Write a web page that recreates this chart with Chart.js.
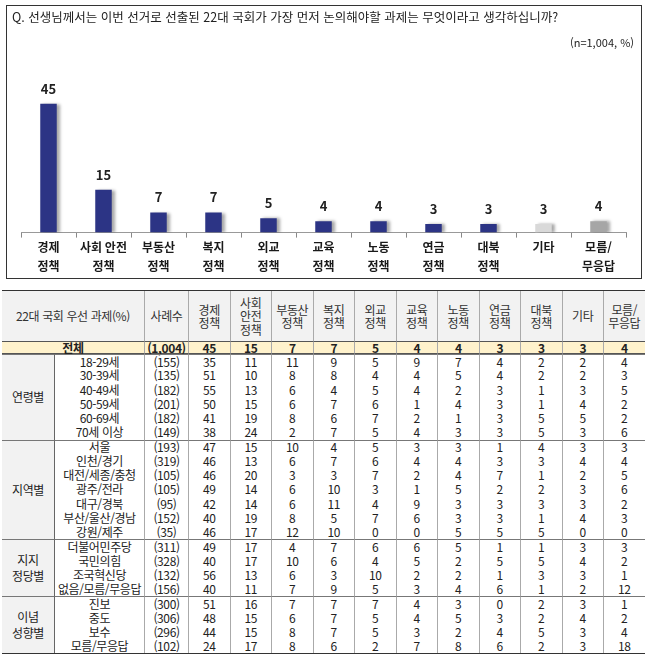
<!DOCTYPE html>
<html lang="ko">
<head>
<meta charset="utf-8">
<script src="https://cdn.jsdelivr.net/npm/chart.js@4.4.1/dist/chart.umd.min.js"></script>
<style>
  body { margin: 0; width: 652px; height: 660px; position: relative; background: #fff; color: #222;
         font-family: "Noto Sans CJK KR", sans-serif; overflow: hidden; }
  #chartBox { position: absolute; left: 6px; top: 5px; width: 634px; height: 272px; border: 1px solid #333; }
  #chartWrap { position: absolute; left: 0; top: 0; width: 634px; height: 272px; }
  #question { position: absolute; left: 5px; top: 3px; font-size: 12.5px; line-height: 16px; white-space: nowrap; }
  #sample { position: absolute; right: 7px; top: 29px; font-size: 11px; line-height: 14px; }
  #table { position: absolute; left: 2px; top: 290px; width: 643px; display: grid;
           grid-template-columns: 52px 90px 44px repeat(11, 41.5px);
           grid-template-rows: 50px 13px repeat(21, 14.25px);
           font-size: 12px; letter-spacing: -0.4px;
           border-top: 1.5px solid #333; border-bottom: 1.5px solid #333; }
  #table div { box-sizing: border-box; display: flex; align-items: center; justify-content: center;
               text-align: center; white-space: nowrap; line-height: 14px; border-left: 1px solid #aaa; }
  #table div.c0 { border-left: none; }
  #table div.c1 { border-left: 1px solid #666; }
  #table div.head { background: #f2f2f2; line-height: 13.5px; color: #333; }
  #table div.total { background: #fff2cc; font-weight: bold; line-height: 12px;
                     border-top: 1px solid #555; border-bottom: 1px solid #555; }
  #table div.first { border-top: 1px solid #777; }
  #table div.group { background: #f2f2f2; line-height: 16px; }
</style>
</head>
<body>
<div id="chartBox">
  <div id="chartWrap"><canvas id="chart"></canvas></div>
  <div id="question">Q. 선생님께서는 이번 선거로 선출된 22대 국회가 가장 먼저 논의해야할 과제는 무엇이라고 생각하십니까?</div>
  <div id="sample">(n=1,004, %)</div>
</div>
<div id="table"></div>
<script>
// 상단 그래프
const categories = [['경제', '정책'], ['사회 안전', '정책'], ['부동산', '정책'], ['복지', '정책'], ['외교', '정책'],
  ['교육', '정책'], ['노동', '정책'], ['연금', '정책'], ['대북', '정책'], ['기타'], ['모름/', '무응답']];
const overallValues = [45, 15, 7, 7, 5, 4, 4, 3, 3, 3, 4];
const overallBase = '1,004';

// 표 머리
const tableTitle = '22대 국회 우선 과제(%)';
const baseTitle = '사례수';
const columnHeads = [['경제', '정책'], ['사회', '안전', '정책'], ['부동산', '정책'], ['복지', '정책'], ['외교', '정책'],
  ['교육', '정책'], ['노동', '정책'], ['연금', '정책'], ['대북', '정책'], ['기타'], ['모름/', '무응답']];

// 연령별
const ageLabels = ['18-29세', '30-39세', '40-49세', '50-59세', '60-69세', '70세 이상'];
const ageBases = [155, 135, 182, 201, 182, 149];
const ageValues = [
  [35, 11, 11, 9, 5, 9, 7, 4, 2, 2, 4],
  [51, 10, 8, 8, 4, 4, 5, 4, 2, 2, 3],
  [55, 13, 6, 4, 5, 4, 2, 3, 1, 3, 5],
  [50, 15, 6, 7, 6, 1, 4, 3, 1, 4, 2],
  [41, 19, 8, 6, 7, 2, 1, 3, 5, 5, 2],
  [38, 24, 2, 7, 5, 4, 3, 3, 5, 3, 6]
];

// 지역별
const regionLabels = ['서울', '인천/경기', '대전/세종/충청', '광주/전라', '대구/경북', '부산/울산/경남', '강원/제주'];
const regionBases = [193, 319, 105, 105, 95, 152, 35];
const regionValues = [
  [47, 15, 10, 4, 5, 3, 3, 1, 4, 3, 3],
  [46, 13, 6, 7, 6, 4, 4, 3, 3, 4, 4],
  [46, 20, 3, 3, 7, 2, 4, 7, 1, 2, 5],
  [49, 14, 6, 10, 3, 1, 5, 2, 2, 3, 6],
  [42, 14, 6, 11, 4, 9, 3, 3, 3, 3, 2],
  [40, 19, 8, 5, 7, 6, 3, 3, 1, 4, 3],
  [46, 17, 12, 10, 0, 0, 5, 5, 5, 0, 0]
];

// 지지 정당별
const partyLabels = ['더불어민주당', '국민의힘', '조국혁신당', '없음/모름/무응답'];
const partyBases = [311, 328, 132, 156];
const partyValues = [
  [49, 17, 4, 7, 6, 6, 5, 1, 1, 3, 3],
  [40, 17, 10, 6, 4, 5, 2, 5, 5, 4, 2],
  [56, 13, 6, 3, 10, 2, 2, 1, 3, 3, 1],
  [40, 11, 7, 9, 5, 3, 4, 6, 1, 2, 12]
];

// 이념 성향별
const ideologyLabels = ['진보', '중도', '보수', '모름/무응답'];
const ideologyBases = [300, 306, 296, 102];
const ideologyValues = [
  [51, 16, 7, 7, 7, 4, 3, 0, 2, 3, 1],
  [48, 15, 6, 7, 5, 4, 5, 3, 2, 4, 2],
  [44, 15, 8, 7, 5, 3, 2, 4, 5, 3, 4],
  [24, 17, 8, 6, 2, 7, 8, 6, 2, 3, 18]
];

const groups = [
  { name: ['연령별'], labels: ageLabels, bases: ageBases, values: ageValues },
  { name: ['지역별'], labels: regionLabels, bases: regionBases, values: regionValues },
  { name: ['지지', '정당별'], labels: partyLabels, bases: partyBases, values: partyValues },
  { name: ['이념', '성향별'], labels: ideologyLabels, bases: ideologyBases, values: ideologyValues }
];

const navy = '#2c3485';
const barColors = overallValues.map((v, i) => i === 9 ? '#d9d9d9' : i === 10 ? '#a6a6a6' : navy);

const barDecor = {
  id: 'barDecor',
  beforeDatasetsDraw(chart) {
    const ctx = chart.ctx;
    ctx.save();
    ctx.shadowColor = 'rgba(0,0,0,0.35)';
    ctx.shadowOffsetX = 3;
    ctx.shadowOffsetY = 0;
    ctx.shadowBlur = 3;
  },
  afterDatasetsDraw(chart) {
    const ctx = chart.ctx;
    ctx.restore();
    ctx.save();
    ctx.font = 'bold 13px "Noto Sans CJK KR"';
    ctx.fillStyle = '#222';
    ctx.textAlign = 'center';
    ctx.textBaseline = 'middle';
    const data = chart.data.datasets[0].data;
    chart.getDatasetMeta(0).data.forEach((bar, i) => {
      ctx.fillText(data[i], bar.x, bar.y - 15);
    });
    ctx.restore();
  }
};

new Chart(document.getElementById('chart'), {
  type: 'bar',
  data: {
    labels: categories,
    datasets: [{
      data: overallValues,
      backgroundColor: barColors,
      barPercentage: 0.3,
      categoryPercentage: 1
    }]
  },
  options: {
    responsive: true,
    maintainAspectRatio: false,
    animation: false,
    layout: { padding: { left: 14, right: 15, top: 59, bottom: 2 } },
    plugins: { legend: { display: false }, tooltip: { enabled: false } },
    scales: {
      x: {
        grid: { display: true, drawOnChartArea: false, drawTicks: true, tickLength: 5, tickColor: '#888', offset: true },
        border: { display: true, color: '#999', width: 1 },
        ticks: {
          color: '#1a1a1a',
          font: { family: 'Noto Sans CJK KR', size: 12, weight: 'bold', lineHeight: 1.6 },
          padding: 0,
          maxRotation: 0,
          autoSkip: false
        }
      },
      y: { display: false, min: 0, max: 58.5 }
    }
  },
  plugins: [barDecor]
});

// 표 만들기
function cell(text, cls, style) {
  return `<div class="${cls}"${style ? ` style="${style}"` : ''}>${text}</div>`;
}
let html = cell(tableTitle, 'head c0', 'grid-column: span 2') + cell(baseTitle, 'head');
columnHeads.forEach(h => { html += cell(h.join('<br>'), 'head'); });
html += cell('전체', 'total c0', 'grid-column: span 2') + cell(`(${overallBase})`, 'total');
overallValues.forEach(v => { html += cell(v, 'total'); });
groups.forEach(g => {
  g.labels.forEach((label, r) => {
    const first = r === 0 ? ' first' : '';
    if (r === 0) html += cell(g.name.join('<br>'), 'group c0 first', `grid-row: span ${g.labels.length}`);
    html += cell(label, 'c1' + first) + cell(`(${g.bases[r]})`, first);
    g.values[r].forEach(v => { html += cell(v, first); });
  });
});
document.getElementById('table').innerHTML = html;
</script>
</body>
</html>
